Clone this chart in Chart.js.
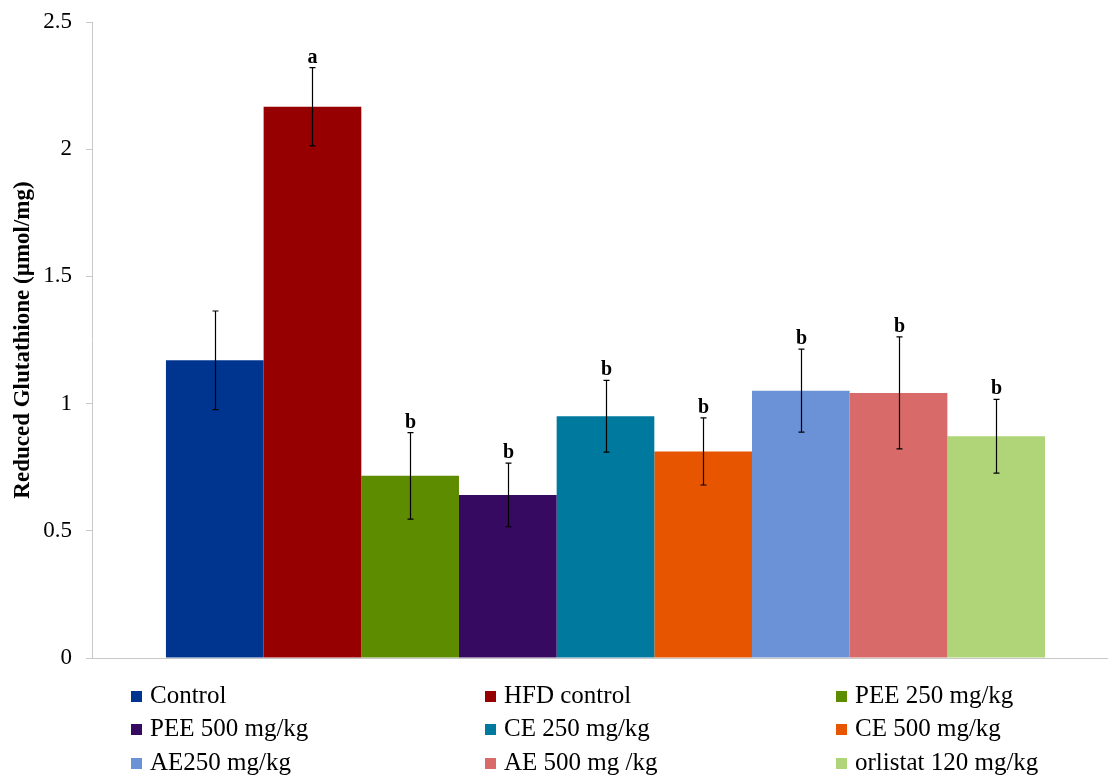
<!DOCTYPE html>
<html>
<head>
<meta charset="utf-8">
<script src="https://cdn.jsdelivr.net/npm/chart.js@4.4.1/dist/chart.umd.min.js"></script>
<style>
  html, body { margin: 0; padding: 0; background: #fff; overflow: hidden; }
  #wrap { position: relative; width: 1108px; height: 775px; overflow: hidden; }
  #box { position: absolute; left: 0; top: 0; width: 1130px; height: 775px; }
  #legend { position: absolute; left: 0; top: 0; width: 1108px; height: 775px; pointer-events: none;
            font-family: "Liberation Serif", "Times New Roman", serif; font-size: 25px; color: #000; }
  .item { position: absolute; white-space: nowrap; line-height: 25px; }
  .sw { display: inline-block; width: 11px; height: 11px; margin-right: 8px; vertical-align: 1px; }
</style>
</head>
<body>
<div id="wrap">
  <div id="box"><canvas id="c" width="1130" height="775"></canvas></div>
  <div id="legend"></div>
</div>
<script>
// Treatment groups, reduced glutathione means and their error bars
const groups = ["Control", "HFD control", "PEE 250 mg/kg", "PEE 500 mg/kg", "CE 250 mg/kg",
                "CE 500 mg/kg", "AE250 mg/kg", "AE 500 mg /kg", "orlistat 120 mg/kg"];
const gshValues = [1.17, 2.167, 0.716, 0.641, 0.950, 0.812, 1.051, 1.042, 0.872];
const gshErrors = [0.194, 0.154, 0.170, 0.125, 0.141, 0.132, 0.163, 0.220, 0.145];
const sigLetters = ["", "a", "b", "b", "b", "b", "b", "b", "b"];
const barColors = ["#00358f", "#960000", "#5e8c00", "#360a60", "#00799e",
                   "#e85500", "#6b92d6", "#d96a6a", "#b0d578"];
const yTicks = [0, 0.5, 1, 1.5, 2, 2.5];

const serif = '"Liberation Serif", "Times New Roman", serif';

// Error bars with caps plus significance letters above them
const errorBars = {
  id: 'errorBars',
  afterDatasetsDraw(chart) {
    const ctx = chart.ctx;
    const y = chart.scales.y;
    ctx.save();
    chart.data.datasets.forEach((ds, i) => {
      const bar = chart.getDatasetMeta(i).data[0];
      const v = ds.data[0];
      const e = gshErrors[i];
      const x = Math.round(bar.x) + 0.5;
      const yHi = y.getPixelForValue(v + e);
      const yLo = y.getPixelForValue(v - e);
      ctx.strokeStyle = '#000';
      ctx.lineWidth = 1.2;
      ctx.beginPath();
      ctx.moveTo(x, yHi); ctx.lineTo(x, yLo);
      ctx.moveTo(x - 3, yHi); ctx.lineTo(x + 3, yHi);
      ctx.moveTo(x - 3, yLo); ctx.lineTo(x + 3, yLo);
      ctx.stroke();
      if (sigLetters[i]) {
        ctx.fillStyle = '#000';
        ctx.font = 'bold 20px ' + serif;
        ctx.textAlign = 'center';
        ctx.textBaseline = 'alphabetic';
        ctx.fillText(sigLetters[i], x, yHi - 5);
      }
    });
    ctx.restore();
  }
};

new Chart(document.getElementById('c'), {
  type: 'bar',
  data: {
    labels: [''],
    datasets: groups.map((g, i) => ({
      label: g,
      data: [gshValues[i]],
      backgroundColor: barColors[i],
      borderWidth: 0,
      barPercentage: 1,
      categoryPercentage: 0.856
    }))
  },
  options: {
    responsive: false,
    animation: false,
    devicePixelRatio: 1,
    layout: { padding: { top: 22, right: 11, left: 0, bottom: 0 } },
    plugins: { legend: { display: false }, tooltip: { enabled: false } },
    scales: {
      x: {
        grid: { display: false },
        border: { display: true, color: '#c8c8c8', width: 1 },
        ticks: { display: false },
        afterFit(scale) { scale.height = 775 - 658; }
      },
      y: {
        min: 0, max: 2.5,
        afterBuildTicks(scale) { scale.ticks = yTicks.map(v => ({ value: v })); },
        ticks: {
          color: '#000',
          font: { family: serif, size: 23 },
          padding: 14,
          callback: v => String(v)
        },
        grid: { drawOnChartArea: false, drawTicks: true, tickLength: 6, color: '#c8c8c8' },
        border: { display: true, color: '#c8c8c8', width: 1 },
        title: {
          display: true,
          text: 'Reduced Glutathione (µmol/mg)',
          color: '#000',
          font: { family: serif, size: 23, weight: 'bold' },
          padding: { top: 9, bottom: 0 }
        },
        afterFit(scale) {
          scale.width = 92;
          scale.paddingTop = 0;
          scale.paddingBottom = 0;
        }
      }
    }
  },
  plugins: [errorBars]
});

// Legend in three columns under the plot
const legend = document.getElementById('legend');
const colX = [131, 485, 836];
const rowY = [682, 715, 749];
groups.forEach((g, i) => {
  const d = document.createElement('div');
  d.className = 'item';
  d.style.left = colX[i % 3] + 'px';
  d.style.top = rowY[Math.floor(i / 3)] + 'px';
  const s = document.createElement('span');
  s.className = 'sw';
  s.style.background = barColors[i];
  d.appendChild(s);
  d.appendChild(document.createTextNode(g));
  legend.appendChild(d);
});
</script>
</body>
</html>
